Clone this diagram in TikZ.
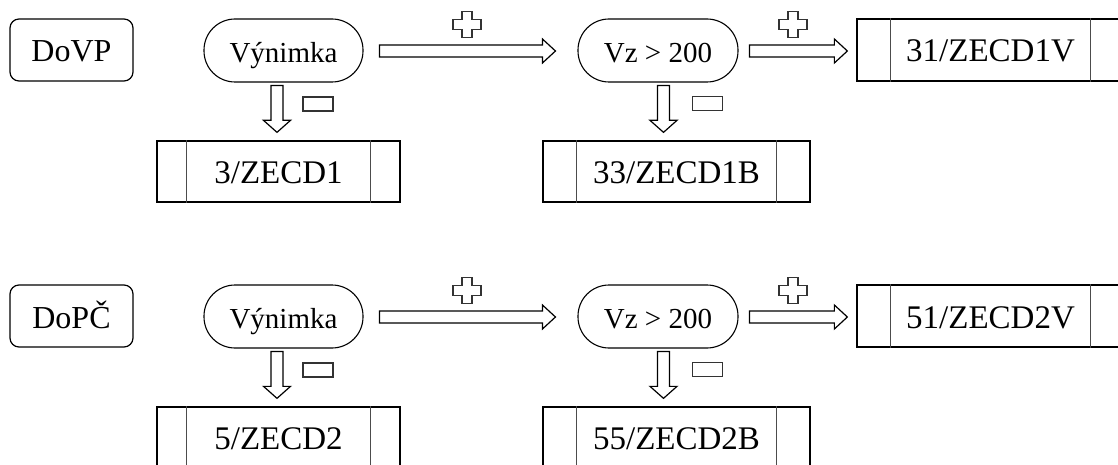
\documentclass[tikz,border=0pt]{standalone}
\usepackage{fontspec}
\setmainfont{Liberation Serif}
\usetikzlibrary{calc}
\tikzset{
  every node/.style={inner sep=0pt, text height=24pt, text depth=0pt},
  term/.style={draw, font=\fontsize{32}{38}\selectfont, rounded corners=9pt, minimum width=123pt, minimum height=62pt, line width=1.2pt},
  cond/.style={draw, font=\fontsize{29}{35}\selectfont, rounded corners=31pt, minimum width=159pt, minimum height=63pt, line width=1.1pt},
  proc/.style={draw, font=\fontsize{33}{39}\selectfont, minimum width=#1, minimum height=62pt, line width=1.3pt},
  innerline/.style={draw=black!70, line width=1.5pt},
  barrow/.style={draw, line width=1.2pt, fill=white, line join=miter},
  sign/.style={draw=black!80, line width=1.4pt},
  plussign/.pic={\draw[sign] (-5,-13) -- (5,-13) -- (5,-5) -- (14,-5) -- (14,5) -- (5,5) -- (5,13) -- (-5,13) -- (-5,5) -- (-14,5) -- (-14,-5) -- (-5,-5) -- cycle;},
  minussign/.pic={\draw[sign] (-15,-7) rectangle (15,7);}
}
\newcommand\hbarrow[2]{\draw[barrow] let \p1=(#1), \p2=(#2) in
  (\x1,\y1+6pt) -- (\x2-13pt,\y1+6pt) -- (\x2-13pt,\y1+12pt) -- (\x2,\y1) --
  (\x2-13pt,\y1-12pt) -- (\x2-13pt,\y1-6pt) -- (\x1,\y1-6pt) -- cycle;}
\newcommand\vbarrow[2]{\draw[barrow] let \p1=(#1), \p2=(#2) in
  (\x1-6pt,\y1) -- (\x1-6pt,\y2+12pt) -- (\x1-13.5pt,\y2+12pt) -- (\x1,\y2) --
  (\x1+13.5pt,\y2+12pt) -- (\x1+6pt,\y2+12pt) -- (\x1+6pt,\y1) -- cycle;}
\newcommand\sidelines[2]{%
  \draw[innerline] ([xshift=#2]#1.north west) -- ([xshift=#2]#1.south west);
  \draw[innerline] ([xshift=-#2]#1.north east) -- ([xshift=-#2]#1.south east);}
\begin{document}
\begin{tikzpicture}[x=1pt,y=-1pt]
\useasboundingbox (0,0) rectangle (1118,465);
\clip (0,0) rectangle (1118,465);
% row 1
\node[term] (dovp) at (71.5,50) {DoVP};
\node[cond] (v1) at (283.5,50.5) {Výnimka};
\node[cond, minimum width=160pt] (c1) at (658,50.5) {Vz > 200};
\node[proc=267pt] (b31) at (990.5,50) {31/ZECD1V};
\sidelines{b31}{34pt}
\node[proc=243pt, minimum height=61pt] (b3) at (278.5,171.5) {3/ZECD1};
\sidelines{b3}{30pt}
\node[proc=267pt, minimum height=61pt] (b33) at (676.5,171.5) {33/ZECD1B};
\sidelines{b33}{34pt}
\coordinate (a1s) at ($(v1.east)+(16,0.5)$);
\coordinate (a1e) at ($(c1.west)+(-22,0.5)$);
\coordinate (a2s) at ($(c1.east)+(11,0.5)$);
\coordinate (a2e) at ($(b31.west)+(-9,1)$);
\coordinate (d1s) at ($(v1.south)+(-6.5,3)$);
\coordinate (d1e) at ($(b3.north)+(-1.5,-8)$);
\coordinate (d2s) at ($(c1.south)+(5.5,3)$);
\coordinate (d2e) at ($(b33.north)+(-13,-8)$);
\hbarrow{a1s}{a1e}
\hbarrow{a2s}{a2e}
\vbarrow{d1s}{d1e}
\vbarrow{d2s}{d2e}
\pic at (467,24.5) {plussign};
\pic at (793,24.5) {plussign};
\pic at (318,104) {minussign};
\pic at (707.5,103.5) {minussign};
% row 2
\node[term] (dopc) at (71.5,316) {DoPČ};
\node[cond] (v2) at (283.5,316.5) {Výnimka};
\node[cond, minimum width=160pt] (c2) at (658,316.5) {Vz > 200};
\node[proc=267pt] (b51) at (990.5,316) {51/ZECD2V};
\sidelines{b51}{34pt}
\node[proc=243pt, minimum height=61pt] (b5) at (278.5,437.5) {5/ZECD2};
\sidelines{b5}{30pt}
\node[proc=267pt, minimum height=61pt] (b55) at (676.5,437.5) {55/ZECD2B};
\sidelines{b55}{34pt}
\coordinate (e1s) at ($(v2.east)+(16,0.5)$);
\coordinate (e1e) at ($(c2.west)+(-22,0.5)$);
\coordinate (e2s) at ($(c2.east)+(11,0.5)$);
\coordinate (e2e) at ($(b51.west)+(-9,1)$);
\coordinate (f1s) at ($(v2.south)+(-6.5,3)$);
\coordinate (f1e) at ($(b5.north)+(-1.5,-8)$);
\coordinate (f2s) at ($(c2.south)+(5.5,3)$);
\coordinate (f2e) at ($(b55.north)+(-13,-8)$);
\hbarrow{e1s}{e1e}
\hbarrow{e2s}{e2e}
\vbarrow{f1s}{f1e}
\vbarrow{f2s}{f2e}
\pic at (467,290.5) {plussign};
\pic at (793,290.5) {plussign};
\pic at (318,370) {minussign};
\pic at (707.5,369.5) {minussign};
\end{tikzpicture}
\end{document}
